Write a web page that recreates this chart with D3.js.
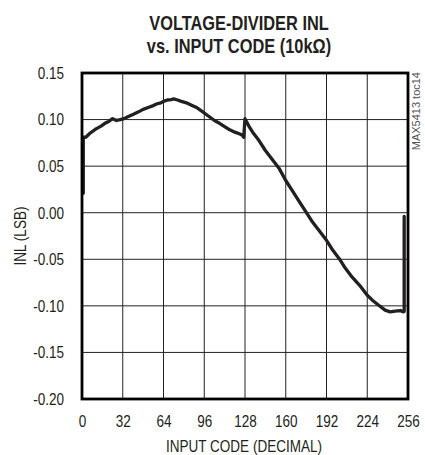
<!DOCTYPE html>
<html>
<head>
<meta charset="utf-8">
<script src="https://cdn.jsdelivr.net/npm/d3@7"></script>
<style>
  body { margin: 0; background: #fff; }
  svg { display: block; }
</style>
</head>
<body>
<svg id="chart"></svg>
<script>
// INL curve (input code, LSB)
const codes = [
  1, 1, 3, 6, 11, 15, 18, 21, 24, 27, 30, 33, 36, 40, 44, 48, 52, 56, 59, 62,
  64, 67, 70, 72, 75, 78, 82, 86, 90, 94, 96, 100, 104, 108, 112, 116, 120, 124,
  126, 127, 128, 131, 134, 139, 144, 150, 155, 160, 165, 170, 176, 181, 186, 192,
  197, 202, 207, 212, 218, 224, 228, 233, 238, 242, 246, 250, 252, 253, 253
];
const inl = [
  0.021, 0.081, 0.081, 0.085, 0.090, 0.093, 0.096, 0.098, 0.101, 0.099, 0.100,
  0.101, 0.103, 0.1055, 0.108, 0.111, 0.113, 0.115, 0.117, 0.118, 0.1195, 0.121,
  0.1215, 0.1222, 0.121, 0.1195, 0.118, 0.1155, 0.113, 0.109, 0.1071, 0.103,
  0.099, 0.096, 0.0925, 0.089, 0.0865, 0.0845, 0.083, 0.081, 0.101, 0.093,
  0.0864, 0.0775, 0.0668, 0.0561, 0.0471, 0.0346, 0.0239, 0.0132, 0.0007,
  -0.010, -0.0189, -0.0296, -0.0404, -0.0493, -0.060, -0.0689, -0.0779, -0.0886,
  -0.0939, -0.0993, -0.1046, -0.1064, -0.1057, -0.105, -0.1064, -0.106, -0.004
];

const xTicks = [0, 32, 64, 96, 128, 160, 192, 224, 256];
const xTickLabels = ['0', '32', '64', '96', '128', '160', '192', '224', '256'];
const yTicks = [0.15, 0.10, 0.05, 0.00, -0.05, -0.10, -0.15, -0.20];
const yTickLabels = ['0.15', '0.10', '0.05', '0.00', '-0.05', '-0.10', '-0.15', '-0.20'];

const titleLines = ['VOLTAGE-DIVIDER INL', 'vs. INPUT CODE (10k\u03A9)'];
const xLabel = 'INPUT CODE (DECIMAL)';
const yLabel = 'INL (LSB)';
const tocLabel = 'MAX5413 toc14';

const width = 425;
const height = 455;
const margin = { top: 73, right: 17, bottom: 56, left: 82 };
const font = "'Liberation Sans', Arial, sans-serif";
const squeeze = 0.82; // no condensed face installed, so narrow the glyphs by hand
const ink = '#231f20';

// keep each text anchored where it is, just squeezed horizontally
const narrow = (sel) =>
  sel.each(function () {
    const t = d3.select(this);
    const x = +t.attr('x') || 0;
    const prev = t.attr('transform') || '';
    t.attr('transform', `${prev} translate(${x * (1 - squeeze)},0) scale(${squeeze},1)`);
  });

const svg = d3.select('#chart')
  .attr('width', width)
  .attr('height', height)
  .attr('viewBox', [0, 0, width, height]);

const xScale = d3.scaleLinear()
  .domain([0, 256])
  .range([margin.left, width - margin.right]);
const yScale = d3.scaleLinear()
  .domain([-0.2, 0.15])
  .range([height - margin.bottom, margin.top]);

const [x0, x1] = xScale.range();
const [yBottom, yTop] = yScale.range();

// Curve
const points = codes.map((c, i) => [c, inl[i]]);
const line = d3.line()
  .x((d) => xScale(d[0]))
  .y((d) => yScale(d[1]));
svg.append('path')
  .datum(points)
  .attr('fill', 'none')
  .attr('stroke', ink)
  .attr('stroke-width', 3.3)
  .attr('stroke-linejoin', 'round')
  .attr('stroke-linecap', 'round')
  .attr('d', line);

// X axis labels
const xAxis = svg.append('g')
  .attr('transform', `translate(0, ${yBottom})`)
  .call(
    d3.axisBottom(xScale)
      .tickValues(xTicks)
      .tickFormat((d, i) => xTickLabels[i])
      .tickSize(0)
      .tickPadding(16)
  );
xAxis.select('.domain').remove();
xAxis.selectAll('.tick line').remove();
xAxis.selectAll('text')
  .attr('font-family', font)
  .attr('font-size', 16.5)
  .attr('fill', ink)
  .call(narrow);

// Y axis labels
const yAxis = svg.append('g')
  .attr('transform', `translate(${x0}, 0)`)
  .call(
    d3.axisLeft(yScale)
      .tickValues(yTicks)
      .tickFormat((d, i) => yTickLabels[i])
      .tickSize(0)
      .tickPadding(18)
  );
yAxis.select('.domain').remove();
yAxis.selectAll('.tick line').remove();
yAxis.selectAll('text')
  .attr('font-family', font)
  .attr('font-size', 16.5)
  .attr('fill', ink)
  .call(narrow);

// Titles
svg.append('g')
  .selectAll('text')
  .data(titleLines)
  .join('text')
  .attr('x', 239)
  .attr('y', (d, i) => 30 + i * 23)
  .attr('text-anchor', 'middle')
  .attr('font-family', font)
  .attr('font-weight', 'bold')
  .attr('font-size', 20)
  .attr('fill', ink)
  .text((d) => d)
  .call(narrow);

svg.append('text')
  .attr('x', 244)
  .attr('y', 452)
  .attr('text-anchor', 'middle')
  .attr('font-family', font)
  .attr('font-size', 16.5)
  .attr('fill', ink)
  .text(xLabel)
  .call(narrow);

svg.append('text')
  .attr('transform', `translate(26, ${(yBottom + yTop) / 2}) rotate(-90)`)
  .attr('text-anchor', 'middle')
  .attr('font-family', font)
  .attr('font-size', 16.5)
  .attr('fill', ink)
  .text(yLabel)
  .call(narrow);

svg.append('text')
  .attr('transform', 'translate(420, 72) rotate(-90)')
  .attr('text-anchor', 'end')
  .attr('font-family', font)
  .attr('font-size', 11)
  .attr('fill', '#555')
  .text(tocLabel);

// Grid, drawn last so nothing can cover it
svg.append('g')
  .attr('class', 'grid-x')
  .selectAll('line')
  .data(xTicks.slice(1, -1))
  .join('line')
  .attr('x1', (d) => xScale(d))
  .attr('x2', (d) => xScale(d))
  .attr('y1', yTop)
  .attr('y2', yBottom)
  .attr('stroke', '#222')
  .attr('stroke-width', 1);
svg.append('g')
  .attr('class', 'grid-y')
  .selectAll('line')
  .data(yTicks.slice(1, -1))
  .join('line')
  .attr('x1', x0)
  .attr('x2', x1)
  .attr('y1', (d) => yScale(d))
  .attr('y2', (d) => yScale(d))
  .attr('stroke', '#222')
  .attr('stroke-width', 1);

// Frame
svg.append('rect')
  .attr('x', x0)
  .attr('y', yTop)
  .attr('width', x1 - x0)
  .attr('height', yBottom - yTop)
  .attr('fill', 'none')
  .attr('stroke', '#000')
  .attr('stroke-width', 2.8);
</script>
</body>
</html>
